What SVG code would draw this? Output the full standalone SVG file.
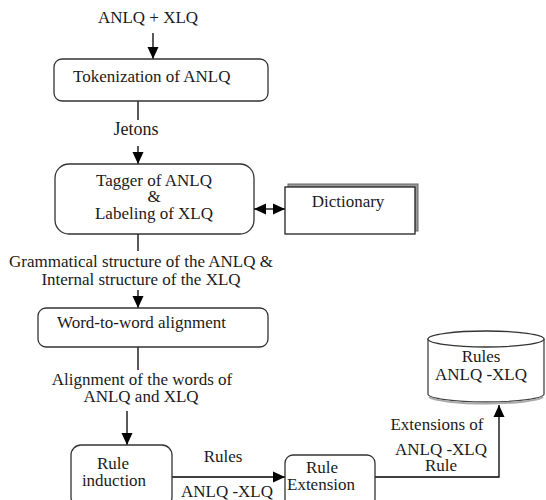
<svg xmlns="http://www.w3.org/2000/svg" width="546" height="500" viewBox="0 0 546 500">
<defs>
<marker id="ah" markerUnits="userSpaceOnUse" markerWidth="12" markerHeight="12" viewBox="0 0 12 12" refX="12" refY="6" orient="auto-start-reverse">
<path d="M0,0.5 L12,6 L0,11.5 Z" fill="#000"/>
</marker>
</defs>
<style>
text{font-family:"Liberation Serif","Times New Roman",serif;font-size:17px;fill:#1a1a1a}
.m{text-anchor:middle}
.box{fill:#fff;stroke:#333;stroke-width:1.3}
.ln{fill:none;stroke:#000;stroke-width:1.3}
</style>
<rect width="546" height="500" fill="#fff"/>
<g id="connectors">
<line class="ln" x1="153" y1="33" x2="153" y2="59" marker-end="url(#ah)"/>
<line class="ln" x1="138" y1="101" x2="138" y2="120"/>
<line class="ln" x1="138" y1="146" x2="138" y2="164" marker-end="url(#ah)"/>
<line class="ln" x1="254" y1="209" x2="285" y2="209" marker-start="url(#ah)" marker-end="url(#ah)"/>
<line class="ln" x1="138" y1="234" x2="138" y2="251"/>
<line class="ln" x1="138" y1="290" x2="138" y2="308" marker-end="url(#ah)"/>
<line class="ln" x1="138" y1="347" x2="138" y2="370"/>
<line class="ln" x1="127" y1="411" x2="127" y2="445" marker-end="url(#ah)"/>
<line class="ln" x1="172" y1="477" x2="285" y2="477" marker-end="url(#ah)"/>
<polyline class="ln" points="375,477 499,477 499,405" marker-end="url(#ah)"/>
</g>
<g id="input"><text class="m" x="148" y="23">ANLQ + XLQ</text></g>
<g id="tokenization">
<rect class="box" x="54" y="59" width="214" height="42" rx="8"/>
<text x="73" y="82">Tokenization of ANLQ</text>
</g>
<g id="jetons"><text class="m" x="136" y="135" style="font-size:18px">Jetons</text></g>
<g id="tagger">
<rect class="box" x="55" y="164" width="199" height="70" rx="14"/>
<text class="m" x="154" y="186">Tagger of ANLQ</text>
<text class="m" x="154" y="202">&amp;</text>
<text class="m" x="154" y="219">Labeling of XLQ</text>
</g>
<g id="dictionary">
<rect x="288" y="184" width="130" height="47" fill="#999" stroke="#666" stroke-width="1"/>
<rect x="285" y="187" width="130" height="47" fill="#fff" stroke="#222" stroke-width="1.3"/>
<text class="m" x="348" y="207">Dictionary</text>
</g>
<g id="grammatical">
<text class="m" x="141" y="267">Grammatical structure of the ANLQ &amp;</text>
<text class="m" x="141" y="285">Internal structure of the XLQ</text>
</g>
<g id="alignment">
<rect class="box" x="38" y="308" width="230" height="39" rx="8"/>
<text x="57" y="328">Word-to-word alignment</text>
</g>
<g id="aligned-words">
<text class="m" x="142" y="385">Alignment of the words of</text>
<text class="m" x="141" y="402">ANLQ and XLQ</text>
</g>
<g id="rule-induction">
<rect class="box" x="71" y="445" width="101" height="62" rx="10"/>
<text class="m" x="113" y="469">Rule</text>
<text class="m" x="114" y="486">induction</text>
</g>
<g id="rules-label">
<text class="m" x="223" y="462">Rules</text>
<text class="m" x="227" y="497">ANLQ -XLQ</text>
</g>
<g id="rule-extension">
<rect class="box" x="285" y="455" width="90" height="52" rx="8"/>
<text class="m" x="322" y="473">Rule</text>
<text class="m" x="321" y="490">Extension</text>
</g>
<g id="extensions-label">
<text class="m" x="437" y="430">Extensions of</text>
<text class="m" x="441" y="455">ANLQ -XLQ</text>
<text class="m" x="441" y="471">Rule</text>
</g>
<g id="rules-db">
<path d="M428,339 L428,394 A58,8 0 0 0 544,394 L544,339" fill="#fff" stroke="#444" stroke-width="1.3"/>
<path d="M429,397 A58,8 0 0 0 543,397" fill="none" stroke="#aaa" stroke-width="2"/>
<ellipse cx="486" cy="339" rx="58" ry="8" fill="#fff" stroke="#333" stroke-width="1.3"/>
<text class="m" x="481" y="362">Rules</text>
<text class="m" x="481" y="380">ANLQ -XLQ</text>
</g>
</svg>
